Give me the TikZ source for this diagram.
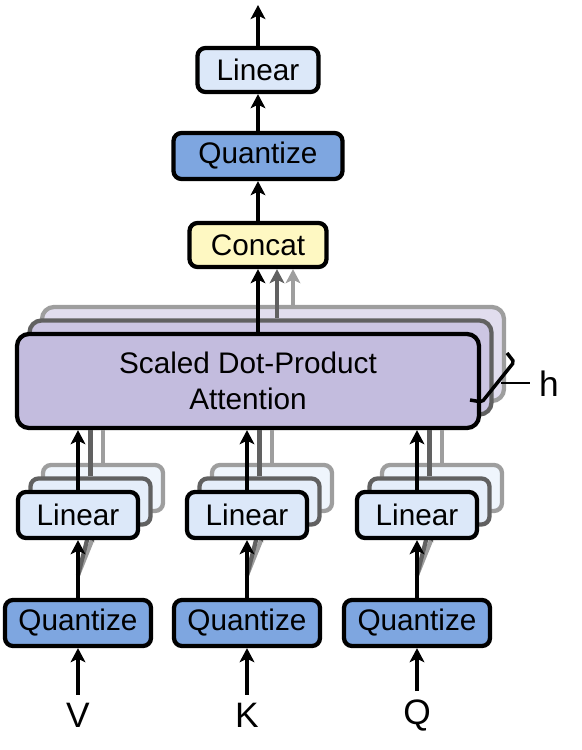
\documentclass[tikz,border=0pt]{standalone}
\usepackage{fontspec}
\setmainfont{Liberation Sans}
\usetikzlibrary{arrows.meta,positioning}
\definecolor{linfill}{RGB}{220,232,249}
\definecolor{qfill}{RGB}{126,166,224}
\definecolor{catfill}{RGB}{254,248,194}
\definecolor{attfill}{RGB}{195,188,222}
\tikzset{
 box/.style={draw,line width=3.2pt,rounded corners=6pt,align=center,inner sep=0pt,
             font=\fontsize{22.3}{27}\selectfont},
 linbox/.style={box,fill=linfill,minimum width=90pt,minimum height=34.5pt},
 qbox/.style={box,fill=qfill,minimum width=109.5pt,minimum height=34.5pt},
 catbox/.style={box,fill=catfill,minimum width=102.75pt,minimum height=33pt},
 attbox/.style={box,fill=attfill,rounded corners=9pt,minimum width=346.5pt,minimum height=70.5pt},
 ghostone/.style={draw=black!62},
 ghosttwo/.style={draw=black!38},
 lbl/.style={font=\fontsize{26.5}{30}\selectfont,inner sep=1pt},
 arrow/.style={-{Stealth[length=10.5pt,width=11pt,inset=2.5pt]},line width=3.2pt},
 ghostarrow/.style={arrow,draw=#1,fill=#1},
 ghostline/.style={line width=3.2pt,draw=#1}
}
\begin{document}
\begin{tikzpicture}[x=0.75pt,y=-0.75pt]
\useasboundingbox (0,0) rectangle (582,750);
% attention heads (two behind, one in front)
\node[attbox,ghosttwo,fill=attfill!50!white] (attn2) at (273,354) {};
\node[attbox,ghostone,fill=attfill!85!white] (attn1) at (260.5,367.5) {};
\node[attbox] (attn) at (248,381) {Scaled Dot-Product\\Attention};

% top column
\node[catbox] (concat) at (258,245) {Concat};
\node[qbox,minimum width=126.75pt] (qtop) at (258,156) {Quantize};
\node[linbox,minimum width=90.75pt,minimum height=33pt] (ltop) at (258,70) {Linear};
\coordinate (out) at (258,5);
\draw[ghostarrow=black!38] ([xshift=26.25pt]concat.south |- attn2.north) -- ([xshift=26.25pt]concat.south);
\draw[ghostarrow=black!62] ([xshift=14.25pt]concat.south |- attn1.north) -- ([xshift=14.25pt]concat.south);
\draw[arrow] (attn.north -| concat.south) -- (concat.south);
\draw[arrow] (concat) -- (qtop);
\draw[arrow] (qtop) -- (ltop);
\draw[arrow] (ltop) -- (out);

% V, K, Q columns
\foreach \x/\n/\t in {78/v/V,247/k/K,417/q/Q}{
  \node[linbox,ghosttwo,fill=linfill!45!white] (lin\n2) at (\x+25,488) {};
  \node[linbox,ghostone,fill=linfill!75!white] (lin\n1) at (\x+12.5,501.5) {};
  \node[qbox] (qu\n) at (\x,623) {Quantize};
  \draw[ghostarrow=black!38] ([yshift=17pt]qu\n.north) -- (lin\n2.south);
  \draw[ghostarrow=black!62] ([yshift=17pt]qu\n.north) -- (lin\n1.south);
  \draw[ghostline=black!38] (lin\n2.north) -- (lin\n2.north |- attn.south);
  \draw[ghostline=black!62] (lin\n1.north) -- (lin\n1.north |- attn.south);
  \node[linbox] (lin\n) at (\x,515) {Linear};
  \draw[arrow] (qu\n) -- (lin\n);
  \draw[arrow] (lin\n) -- (lin\n |- attn.south);
  \node[lbl] (in\n) at (\x,715) {\t};
  \draw[arrow,shorten <=5pt] (in\n) -- (qu\n);
}

% number of heads
\draw[line width=2.6pt,rounded corners=1.5pt] (507,353) -- (514,362) -- (482,402) -- (470,400);
\coordinate (hmid) at (501,383);
\node[lbl] (h) at (549,384) {h};
\draw[line width=1.8pt,shorten >=6pt] (hmid) -- (h.west |- hmid);
\end{tikzpicture}
\end{document}
